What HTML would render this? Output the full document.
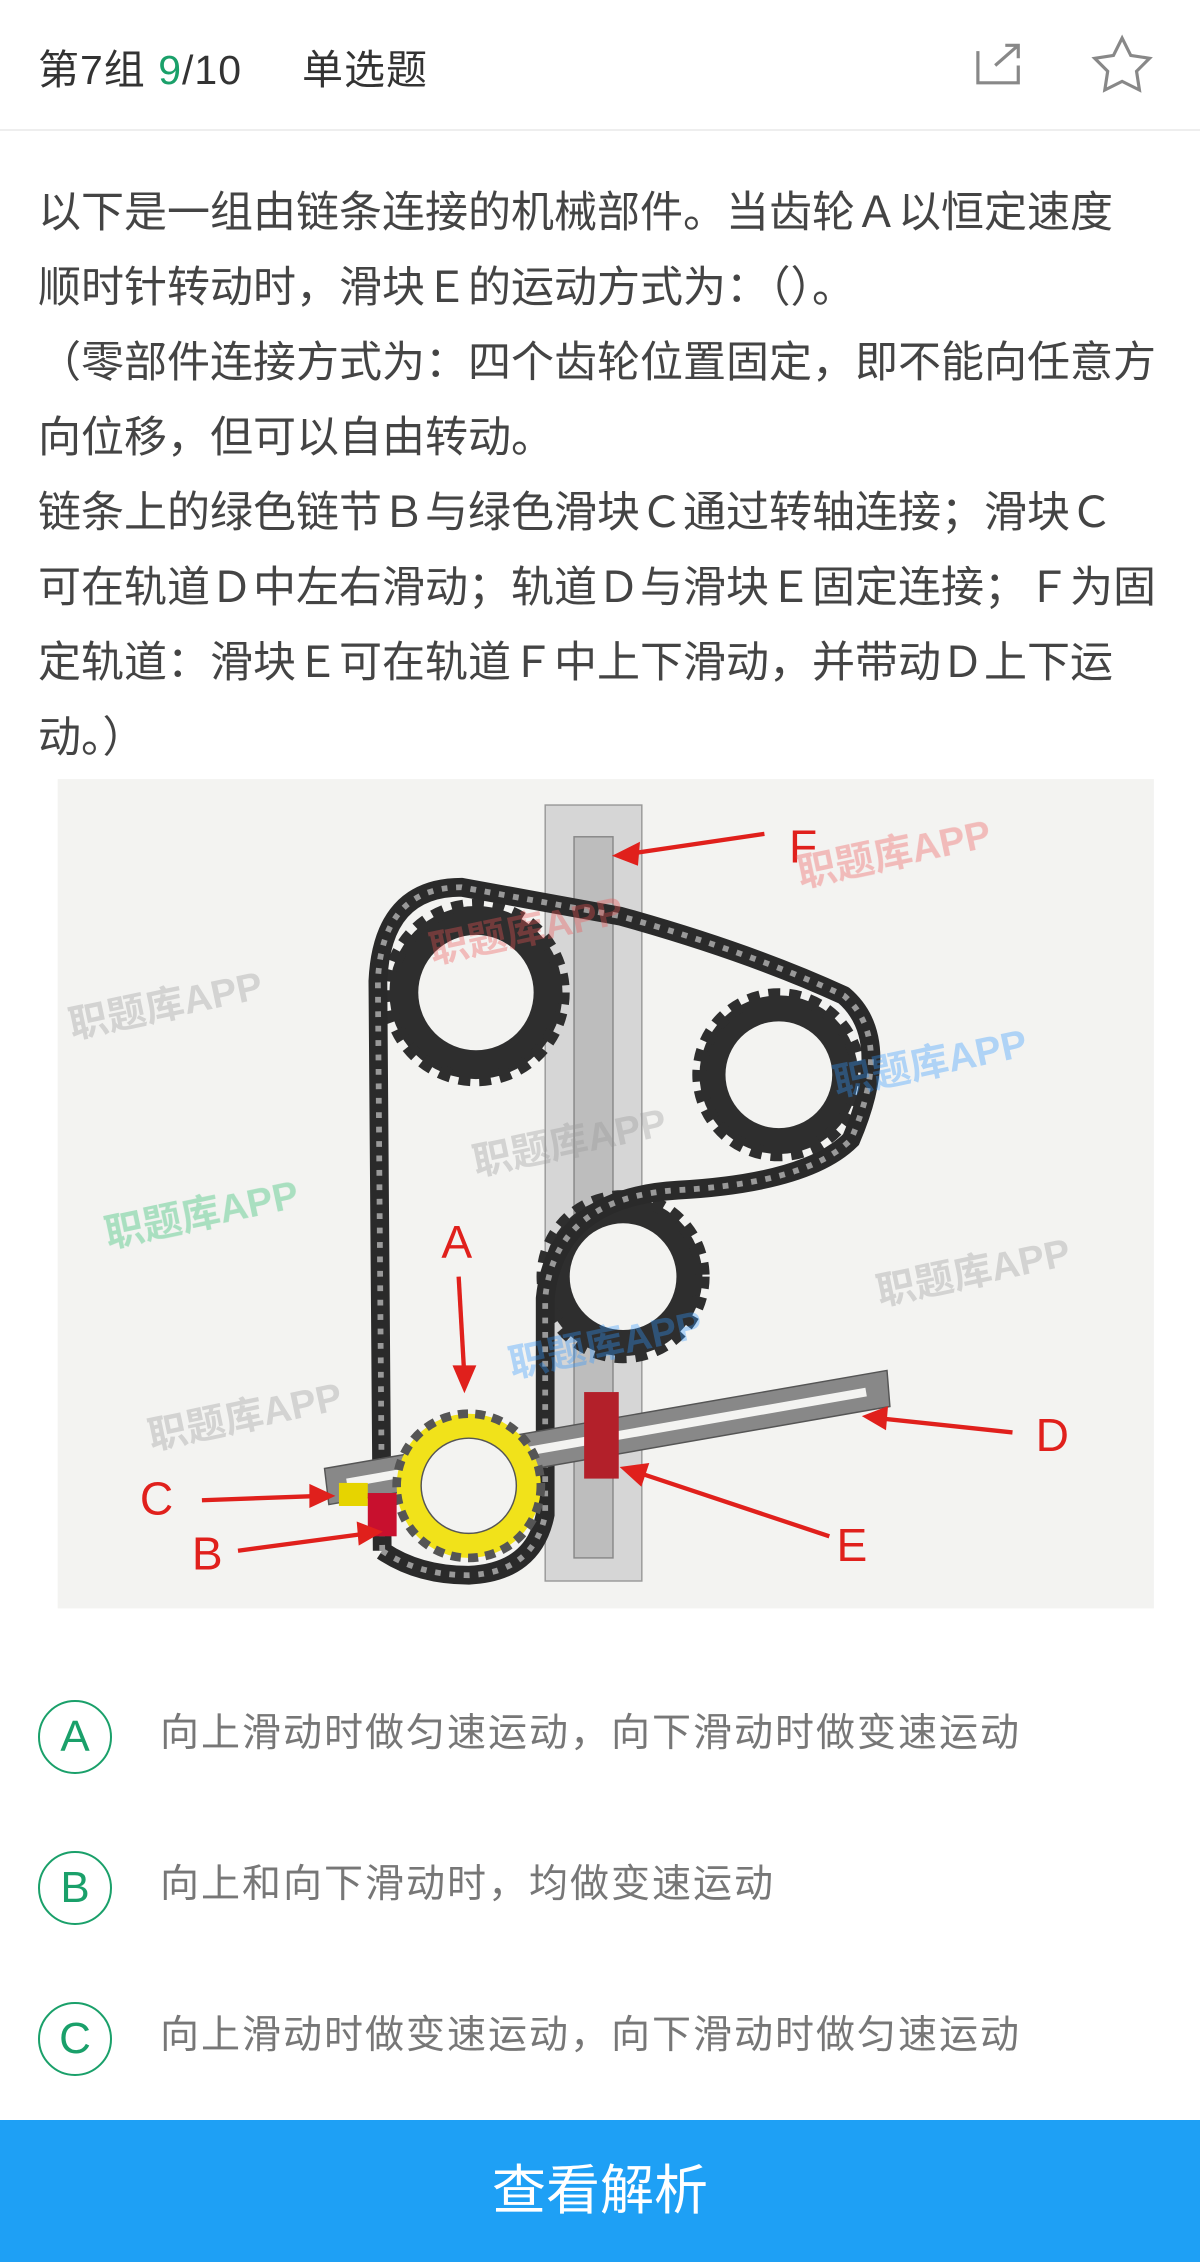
<!DOCTYPE html>
<html><head><meta charset="utf-8"><style>
*{margin:0;padding:0;box-sizing:border-box}
body{width:1200px;height:2262px;background:#fff;position:relative;overflow:hidden;font-family:"Liberation Sans","Noto Sans CJK SC",sans-serif;color:#333}
.hdr{position:absolute;left:0;top:0;width:1200px;height:131px;border-bottom:2px solid #eee}
.hdr .t{position:absolute;left:38px;top:36px;font-size:41px;letter-spacing:1px;color:#333;white-space:nowrap}
.hdr .t b{font-weight:normal;color:#1aa06a}
.q{position:absolute;left:38px;top:176px;font-size:43px;line-height:75px;color:#444;white-space:nowrap}
.opt{position:absolute;left:38px;width:74px;height:74px;border:2px solid #1aa06a;border-radius:50%;color:#1aa06a;font-size:44px;text-align:center;line-height:70px}
.ot{position:absolute;left:160px;font-size:39px;letter-spacing:2px;color:#777;white-space:nowrap}
.btn{position:absolute;left:0;top:2120px;width:1200px;height:142px;background:#1ea0f5;color:#fff;font-size:54px;text-align:center;line-height:142px}
svg{position:absolute;left:0;top:0}
</style></head><body>
<div class="hdr"><div class="t">第7组 <b>9</b>/10<span style="display:inline-block;width:60px"></span>单选题</div>
<svg width="1200" height="131" viewBox="0 0 832 90"><g fill="none" stroke="#888" stroke-width="2.2"><path d="M678 35v22h28v-12M690 45l16-14M697 31h9v9"/><path d="M778 26l6 12 13 2-9 9 2 13-12-6-12 6 2-13-9-9 13-2z"/></g></svg>
</div>
<div class="q">以下是一组由链条连接的机械部件。当齿轮Ａ以恒定速度<br>顺时针转动时，滑块Ｅ的运动方式为：（）。<br>（零部件连接方式为：四个齿轮位置固定，即不能向任意方<br>向位移，但可以自由转动。<br>链条上的绿色链节Ｂ与绿色滑块Ｃ通过转轴连接；滑块Ｃ<br>可在轨道Ｄ中左右滑动；轨道Ｄ与滑块Ｅ固定连接；Ｆ为固<br>定轨道：滑块Ｅ可在轨道Ｆ中上下滑动，并带动Ｄ上下运<br>动。）</div>
<svg width="1200" height="2262" viewBox="0 0 832 1568">
<rect x="40" y="540" width="760" height="575" fill="#f3f3f1"/>
<rect x="378" y="558" width="67" height="538" fill="#d6d6d6" stroke="#999"/>
<rect x="398" y="580" width="27" height="500" fill="#bdbdbd" stroke="#888"/>
<g fill="#2e2e2e">
<circle cx="330" cy="688" r="60" stroke="#2e2e2e" stroke-width="10" stroke-dasharray="8 6"/>
<circle cx="540" cy="745" r="55" stroke="#2e2e2e" stroke-width="10" stroke-dasharray="8 6"/>
<circle cx="432" cy="885" r="55" stroke="#2e2e2e" stroke-width="10" stroke-dasharray="8 6"/>
</g>
<g fill="#f3f3f1"><circle cx="330" cy="688" r="40"/><circle cx="540" cy="745" r="37"/><circle cx="432" cy="885" r="37"/></g>
<path d="M265 1075 L262 680 Q265 615 320 615 L430 635 Q520 660 585 690 Q620 720 590 790 Q560 820 470 825 Q385 830 378 900 L378 1050 Q370 1090 325 1092 Q290 1092 265 1075" fill="none" stroke="#2a2a2a" stroke-width="13"/>
<path d="M265 1075 L262 680 Q265 615 320 615 L430 635 Q520 660 585 690 Q620 720 590 790 Q560 820 470 825 Q385 830 378 900 L378 1050 Q370 1090 325 1092 Q290 1092 265 1075" fill="none" stroke="#999" stroke-width="4" stroke-dasharray="4 6"/>
<polygon points="225,1018 615,950 617,975 228,1043" fill="#888" stroke="#555"/>
<polygon points="240,1025 600,962 601,968 241,1031" fill="#f3f3f1"/>
<circle cx="325" cy="1030" r="50" fill="#f1e21a" stroke="#555" stroke-width="6" stroke-dasharray="7 5"/>
<circle cx="325" cy="1030" r="33" fill="#f3f3f1" stroke="#555"/>
<rect x="235" y="1028" width="20" height="16" fill="#e6d400"/>
<rect x="255" y="1035" width="20" height="30" fill="#c8102e"/>
<rect x="405" y="965" width="24" height="60" fill="#b3202a"/>
<g stroke="#e0201c" stroke-width="3" fill="#e0201c">
<line x1="530" y1="578" x2="435" y2="592"/><polygon points="428,593 442,586 441,598"/>
<line x1="318" y1="885" x2="322" y2="955"/><polygon points="322,962 316,948 328,948"/>
<line x1="702" y1="993" x2="608" y2="983"/><polygon points="601,982 614,977 613,989"/>
<line x1="140" y1="1040" x2="222" y2="1037"/><polygon points="229,1037 216,1031 216,1043"/>
<line x1="575" y1="1065" x2="440" y2="1020"/><polygon points="433,1018 448,1016 444,1028"/>
<line x1="165" y1="1075" x2="255" y2="1063"/><polygon points="262,1062 249,1057 250,1069"/>
</g>
<g fill="#e0201c" font-size="32" font-family="Liberation Sans,sans-serif">
<text x="547" y="598">F</text><text x="306" y="872">A</text><text x="718" y="1006">D</text><text x="97" y="1050">C</text><text x="580" y="1082">E</text><text x="133" y="1088">B</text></g>
<g font-size="27" font-weight="bold" font-family="Liberation Sans,Noto Sans CJK SC,sans-serif" opacity="0.35">
<text x="50" y="720" fill="#999" transform="rotate(-12 50 720)">职题库APP</text>
<text x="300" y="668" fill="#e55" transform="rotate(-12 300 668)">职题库APP</text>
<text x="555" y="615" fill="#e55" transform="rotate(-12 555 615)">职题库APP</text>
<text x="330" y="815" fill="#999" transform="rotate(-12 330 815)">职题库APP</text>
<text x="580" y="760" fill="#39f" transform="rotate(-12 580 760)">职题库APP</text>
<text x="75" y="865" fill="#2b6" transform="rotate(-12 75 865)">职题库APP</text>
<text x="610" y="905" fill="#999" transform="rotate(-12 610 905)">职题库APP</text>
<text x="355" y="955" fill="#39f" transform="rotate(-12 355 955)">职题库APP</text>
<text x="105" y="1005" fill="#999" transform="rotate(-12 105 1005)">职题库APP</text>
</g>
</svg>
<div class="opt" style="top:1700px">A</div><div class="ot" style="top:1702px">向上滑动时做匀速运动，向下滑动时做变速运动</div>
<div class="opt" style="top:1851px">B</div><div class="ot" style="top:1853px">向上和向下滑动时，均做变速运动</div>
<div class="opt" style="top:2002px">C</div><div class="ot" style="top:2004px">向上滑动时做变速运动，向下滑动时做匀速运动</div>
<div class="btn">查看解析</div>
</body></html>
